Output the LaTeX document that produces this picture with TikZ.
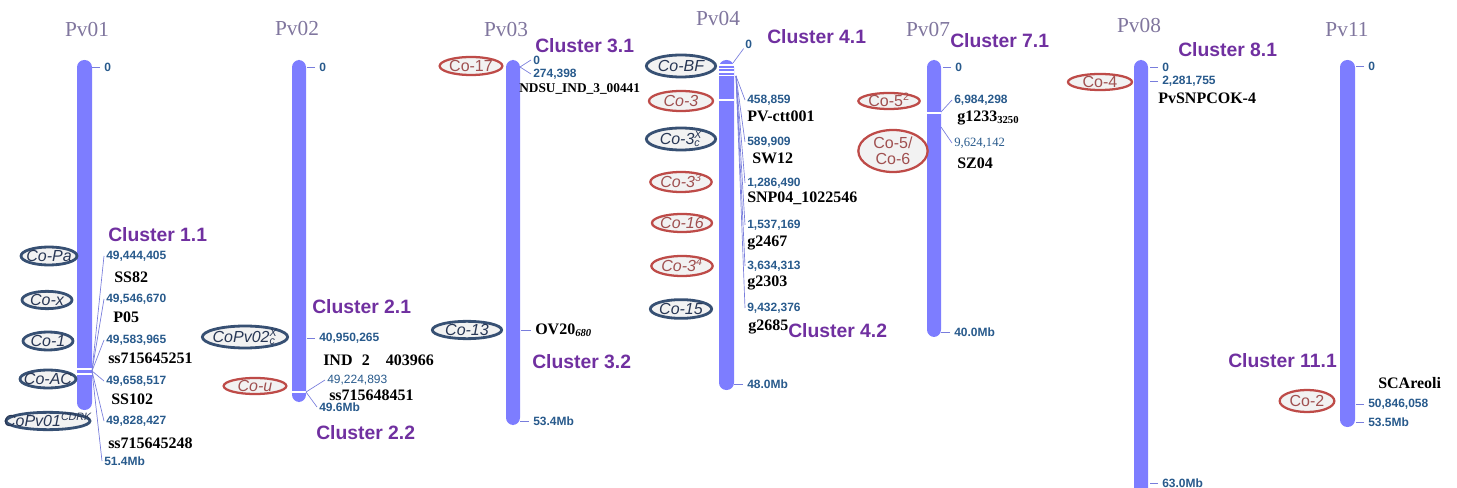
\documentclass[tikz,border=0pt]{standalone}
\usepackage{fontspec}
\setmainfont{Liberation Serif}
\setsansfont{Liberation Sans}
\usepackage{xcolor}
\usetikzlibrary{positioning,calc,shapes.geometric}

\definecolor{barcol}{RGB}{125,125,255}
\definecolor{clustcol}{RGB}{112,48,160}
\definecolor{poscol}{RGB}{40,90,140}
\definecolor{titlecol}{RGB}{128,118,158}
\definecolor{blueell}{RGB}{55,80,115}
\definecolor{bluetxt}{RGB}{40,55,85}
\definecolor{redell}{RGB}{190,75,72}
\definecolor{redtxt}{RGB}{160,80,80}
\definecolor{ellfill}{RGB}{242,242,242}
\definecolor{linecol}{RGB}{120,125,220}

% centred text of zero width, so the ellipse keeps its given size
\newcommand{\gn}[1]{\makebox[0pt]{\smash{#1}}\rule{0pt}{0.7em}}

\begin{document}
\begin{tikzpicture}[x=0.75pt,y=-0.75pt,
  chr/.style={fill=barcol, rounded corners=5.5pt},
  band/.style={draw=white, line width=0.8pt},
  ttl/.style={font=\fontsize{16}{16}\selectfont, text=titlecol},
  clst/.style={anchor=west, inner sep=0, font=\sffamily\bfseries\fontsize{14.5}{14.5}\selectfont, text=clustcol},
  posl/.style={anchor=west, inner sep=0, font=\sffamily\bfseries\fontsize{9}{9}\selectfont, text=poscol},
  posr/.style={posl, font=\sffamily\fontsize{9}{9}\selectfont},
  mrk/.style={anchor=west, inner sep=0, font=\bfseries\fontsize{12}{12}\selectfont},
  gene/.style={ellipse, inner sep=0, fill=ellfill, font=\sffamily\itshape\fontsize{12}{12}\selectfont},
  geneb/.style={gene, draw=blueell, line width=2.1pt, text=bluetxt},
  gener/.style={gene, draw=redell, line width=1.7pt, text=redtxt},
  upr/.style={font=\sffamily\fontsize{12}{12}\selectfont},
  sz/.style 2 args={minimum width=#1, minimum height=#2},
  tk/.style={draw=linecol, line width=0.7pt}]
\useasboundingbox (0,0) rectangle (1457,488);

% chromosomes
\fill[chr] (77,60) rectangle (92,410);
\fill[chr] (292,60) rectangle (306,402);
\fill[chr] (506,60) rectangle (520,425);
\fill[chr] (719,60) rectangle (734,390);
\fill[chr] (927,60) rectangle (941,337);
\fill[chr] (1134,60) rectangle (1148,500);
\fill[chr] (1340,60) rectangle (1355,427);
\draw[band] (77,369) -- (92,369) (77,374) -- (92,374);
\draw[band] (292,392) -- (306,392);
\foreach \y in {65,68.5,72,75.5,100}
  \draw[band] (719,\y) -- (734,\y);
\draw[band] (927,113) -- (941,113);

% Pv01
\node[ttl] (t01) at (87,30) {Pv01};
\node[posl] (p01z) at (104,67) {0};
\draw[tk] ([xshift=-3pt]p01z.west) -- ++(-8,0);
\node[clst] (c11) at (108,235) {Cluster 1.1};
\node[posl] (p01a) at (106,256) {49,444,405};
\node[mrk] (m01a) at (114,277) {SS82};
\node[posl] (p01b) at (106,299) {49,546,670};
\node[mrk] (m01b) at (113,317) {P05};
\node[posl] (p01c) at (106,340) {49,583,965};
\node[mrk] (m01c) at (108,358) {ss715645251};
\node[posl] (p01d) at (106,381) {49,658,517};
\node[mrk] (m01d) at (111,399) {SS102};
\node[posl] (p01e) at (106,421) {49,828,427};
\node[mrk] (m01e) at (108,443) {ss715645248};
\node[posl] (p01f) at (104,461) {51.4Mb};
\coordinate (f01) at (92,371);
\foreach \n in {a,b,c,d,e,f}
  \draw[tk, line width=0.5pt] (f01) -- ([xshift=-1.5pt]p01\n.west);
\node[geneb, sz={42pt}{13.5pt}] (copa) at (49,256) {\gn{Co-Pa}};
\node[geneb, sz={37.5pt}{13pt}] (cox) at (47,300) {\gn{Co-x}};
\node[geneb, sz={37.5pt}{13.5pt}] (co1) at (48,341) {\gn{Co-1}};
\node[geneb, sz={42pt}{13.5pt}] (coac) at (48,379) {\gn{Co-AC}};
\node[geneb, sz={63pt}{13pt}] (cdrk) at (48,421) {\gn{CoPv01\textsuperscript{CDRK}}};

% Pv02
\node[ttl] (t02) at (297,29) {Pv02};
\node[posl] (p02z) at (319,67) {0};
\draw[tk] ([xshift=-3pt]p02z.west) -- ++(-8,0);
\node[clst] (c21) at (312,307) {Cluster 2.1};
\node[posl] (p02a) at (319,338) {40,950,265};
\draw[tk] ([xshift=-3pt]p02a.west) -- ++(-8,0);
\node[mrk] (m02a) at (323,360) {IND\hspace{7pt}2\hspace{12pt}403966};
\node[posr] (p02b) at (327,380) {49,224,893};
\node[mrk] (m02b) at (329,395) {ss715648451};
\node[posl] (p02c) at (319,407) {49.6Mb};
\coordinate (f02) at (306,392);
\foreach \n in {b,c}
  \draw[tk, line width=0.5pt] (f02) -- ([xshift=-1.5pt]p02\n.west);
\node[clst] (c22) at (316,433) {Cluster 2.2};
\node[geneb, sz={64pt}{16.5pt}] (cov02) at (245,337) {\gn{CoPv02\rlap{\textsubscript{c}}\textsuperscript{X}}};
\node[gener, sz={47pt}{12pt}] (cou) at (255,386) {\gn{Co-u}};

% Pv03
\node[ttl] (t03) at (506,30) {Pv03};
\node[clst] (c31) at (535,46) {Cluster 3.1};
\node[posl] (p03a) at (533,60) {0};
\node[posl] (p03b) at (533,74) {274,398};
\coordinate (f03) at (520,67);
\foreach \n in {a,b}
  \draw[tk, line width=0.5pt] (f03) -- ([xshift=-1.5pt]p03\n.west);
\node[mrk, font=\bfseries\fontsize{10}{10}\selectfont] (m03a) at (519,89) {NDSU\_IND\_3\_00441};
\node[gener, upr, sz={47pt}{13.5pt}] (co17) at (471,66) {\gn{Co-17}};
\node[mrk] (m03b) at (535,330) {OV20\textsubscript{\textit{680}}};
\draw[tk] ([xshift=-3pt]m03b.west) -- ++(-10,0);
\node[geneb, sz={52pt}{13pt}] (co13) at (467,330) {\gn{Co-13}};
\node[clst] (c32) at (532,362) {Cluster 3.2};
\node[posl] (p03c) at (533,421) {53.4Mb};
\draw[tk] ([xshift=-3pt]p03c.west) -- ++(-9,0);

% Pv04
\node[ttl] (t04) at (718,19) {Pv04};
\node[clst] (c41) at (767,37) {Cluster 4.1};
\node[posl] (p04z) at (745,44) {0};
\coordinate (f04z) at (733,63);
\draw[tk, line width=0.5pt] (f04z) -- ([xshift=-1pt]p04z.south west);
\node[posl] (p04a) at (747,100) {458,859};
\node[mrk] (m04a) at (747,116) {PV-ctt001};
\node[posl] (p04b) at (747,142) {589,909};
\node[mrk] (m04b) at (752,158) {SW12};
\node[posl] (p04c) at (747,183) {1,286,490};
\node[mrk] (m04c) at (747,198) {SNP04\_1022546};
\node[posl] (p04d) at (747,225) {1,537,169};
\node[mrk] (m04d) at (747,243) {g2467};
\node[posl] (p04e) at (747,266) {3,634,313};
\node[mrk] (m04e) at (747,283) {g2303};
\node[posl] (p04f) at (747,308) {9,432,376};
\node[mrk] (m04f) at (748,327) {g2685};
\node[clst] (c42) at (788,331) {Cluster 4.2};
\node[posl] (p04g) at (747,384) {48.0Mb};
\draw[tk] ([xshift=-3pt]p04g.west) -- ++(-9,0);
\coordinate (f04) at (736,76);
\foreach \n in {a,b,c,d,e,f}
  \draw[tk, line width=0.5pt] (f04) -- ([xshift=-1.5pt]p04\n.west);
\node[geneb, sz={52pt}{16.5pt}] (cobf) at (681,66) {\gn{Co-BF}};
\node[gener, sz={48pt}{15pt}] (co3) at (681,101) {\gn{Co-3}};
\node[geneb, sz={52pt}{16.5pt}] (co3cx) at (681,139) {\gn{Co-3\rlap{\textsubscript{c}}\textsuperscript{X}}};
\node[gener, sz={46pt}{15pt}] (co33) at (681,182) {\gn{Co-3\textsuperscript{3}}};
\node[gener, sz={45pt}{13.5pt}] (co16) at (682,223) {\gn{Co-16}};
\node[gener, sz={46pt}{15pt}] (co34) at (682,266) {\gn{Co-3\textsuperscript{4}}};
\node[geneb, sz={46pt}{14pt}] (co15) at (681,309) {\gn{Co-15}};

% Pv07
\node[ttl] (t07) at (928,30) {Pv07};
\node[clst] (c71) at (950,41) {Cluster 7.1};
\node[posl] (p07z) at (955,67) {0};
\draw[tk] ([xshift=-3pt]p07z.west) -- ++(-8,0);
\node[posl] (p07a) at (954,100) {6,984,298};
\node[mrk] (m07a) at (957,118) {g1233\textsubscript{3250}};
\node[posr, font=\fontsize{9.5}{9.5}\selectfont] (p07b) at (954,143) {9,624,142};
\node[mrk] (m07b) at (957,163) {SZ04};
\coordinate (f07a) at (941,112);
\coordinate (f07b) at (941,127);
\draw[tk, line width=0.5pt] (f07a) -- ([xshift=-1.5pt]p07a.west);
\draw[tk, line width=0.5pt] (f07b) -- ([xshift=-1.5pt]p07b.west);
\node[posl] (p07c) at (954,332) {40.0Mb};
\draw[tk] ([xshift=-3pt]p07c.west) -- ++(-9,0);
\node[gener, upr, sz={46pt}{12pt}] (co52) at (889,101) {\gn{Co-5\textsuperscript{2}}};
\node[gener, upr, sz={52pt}{31.5pt}, align=center] (co56) at (893,151) {Co-5/\\Co-6};

% Pv08
\node[ttl] (t08) at (1139,26) {Pv08};
\node[clst] (c81) at (1178,50) {Cluster 8.1};
\node[posl] (p08z) at (1162,67) {0};
\node[posl] (p08a) at (1162,81) {2,281,755};
\foreach \n in {z,a}
  \draw[tk] ([xshift=-3pt]p08\n.west) -- ++(-8,0);
\node[mrk] (m08a) at (1158,98) {PvSNPCOK-4};
\node[gener, upr, sz={48pt}{12pt}] (co4) at (1100,82) {\gn{Co-4}};
\node[posl] (p08b) at (1162,483) {63.0Mb};
\draw[tk] ([xshift=-3pt]p08b.west) -- ++(-8,0);

% Pv11
\node[ttl] (t11) at (1347,30) {Pv11};
\node[posl] (p11z) at (1368,66) {0};
\node[clst] (c111) at (1228,361) {Cluster 11.1};
\node[mrk] (m11a) at (1378,383) {SCAreoli};
\node[posl] (p11a) at (1368,404) {50,846,058};
\node[posl] (p11b) at (1368,422) {53.5Mb};
\foreach \n in {z,a,b}
  \draw[tk] ([xshift=-3pt]p11\n.west) -- ++(-8,0);
\node[gener, upr, sz={41pt}{16.5pt}] (co2) at (1307,401) {\gn{Co-2}};
\end{tikzpicture}
\end{document}
